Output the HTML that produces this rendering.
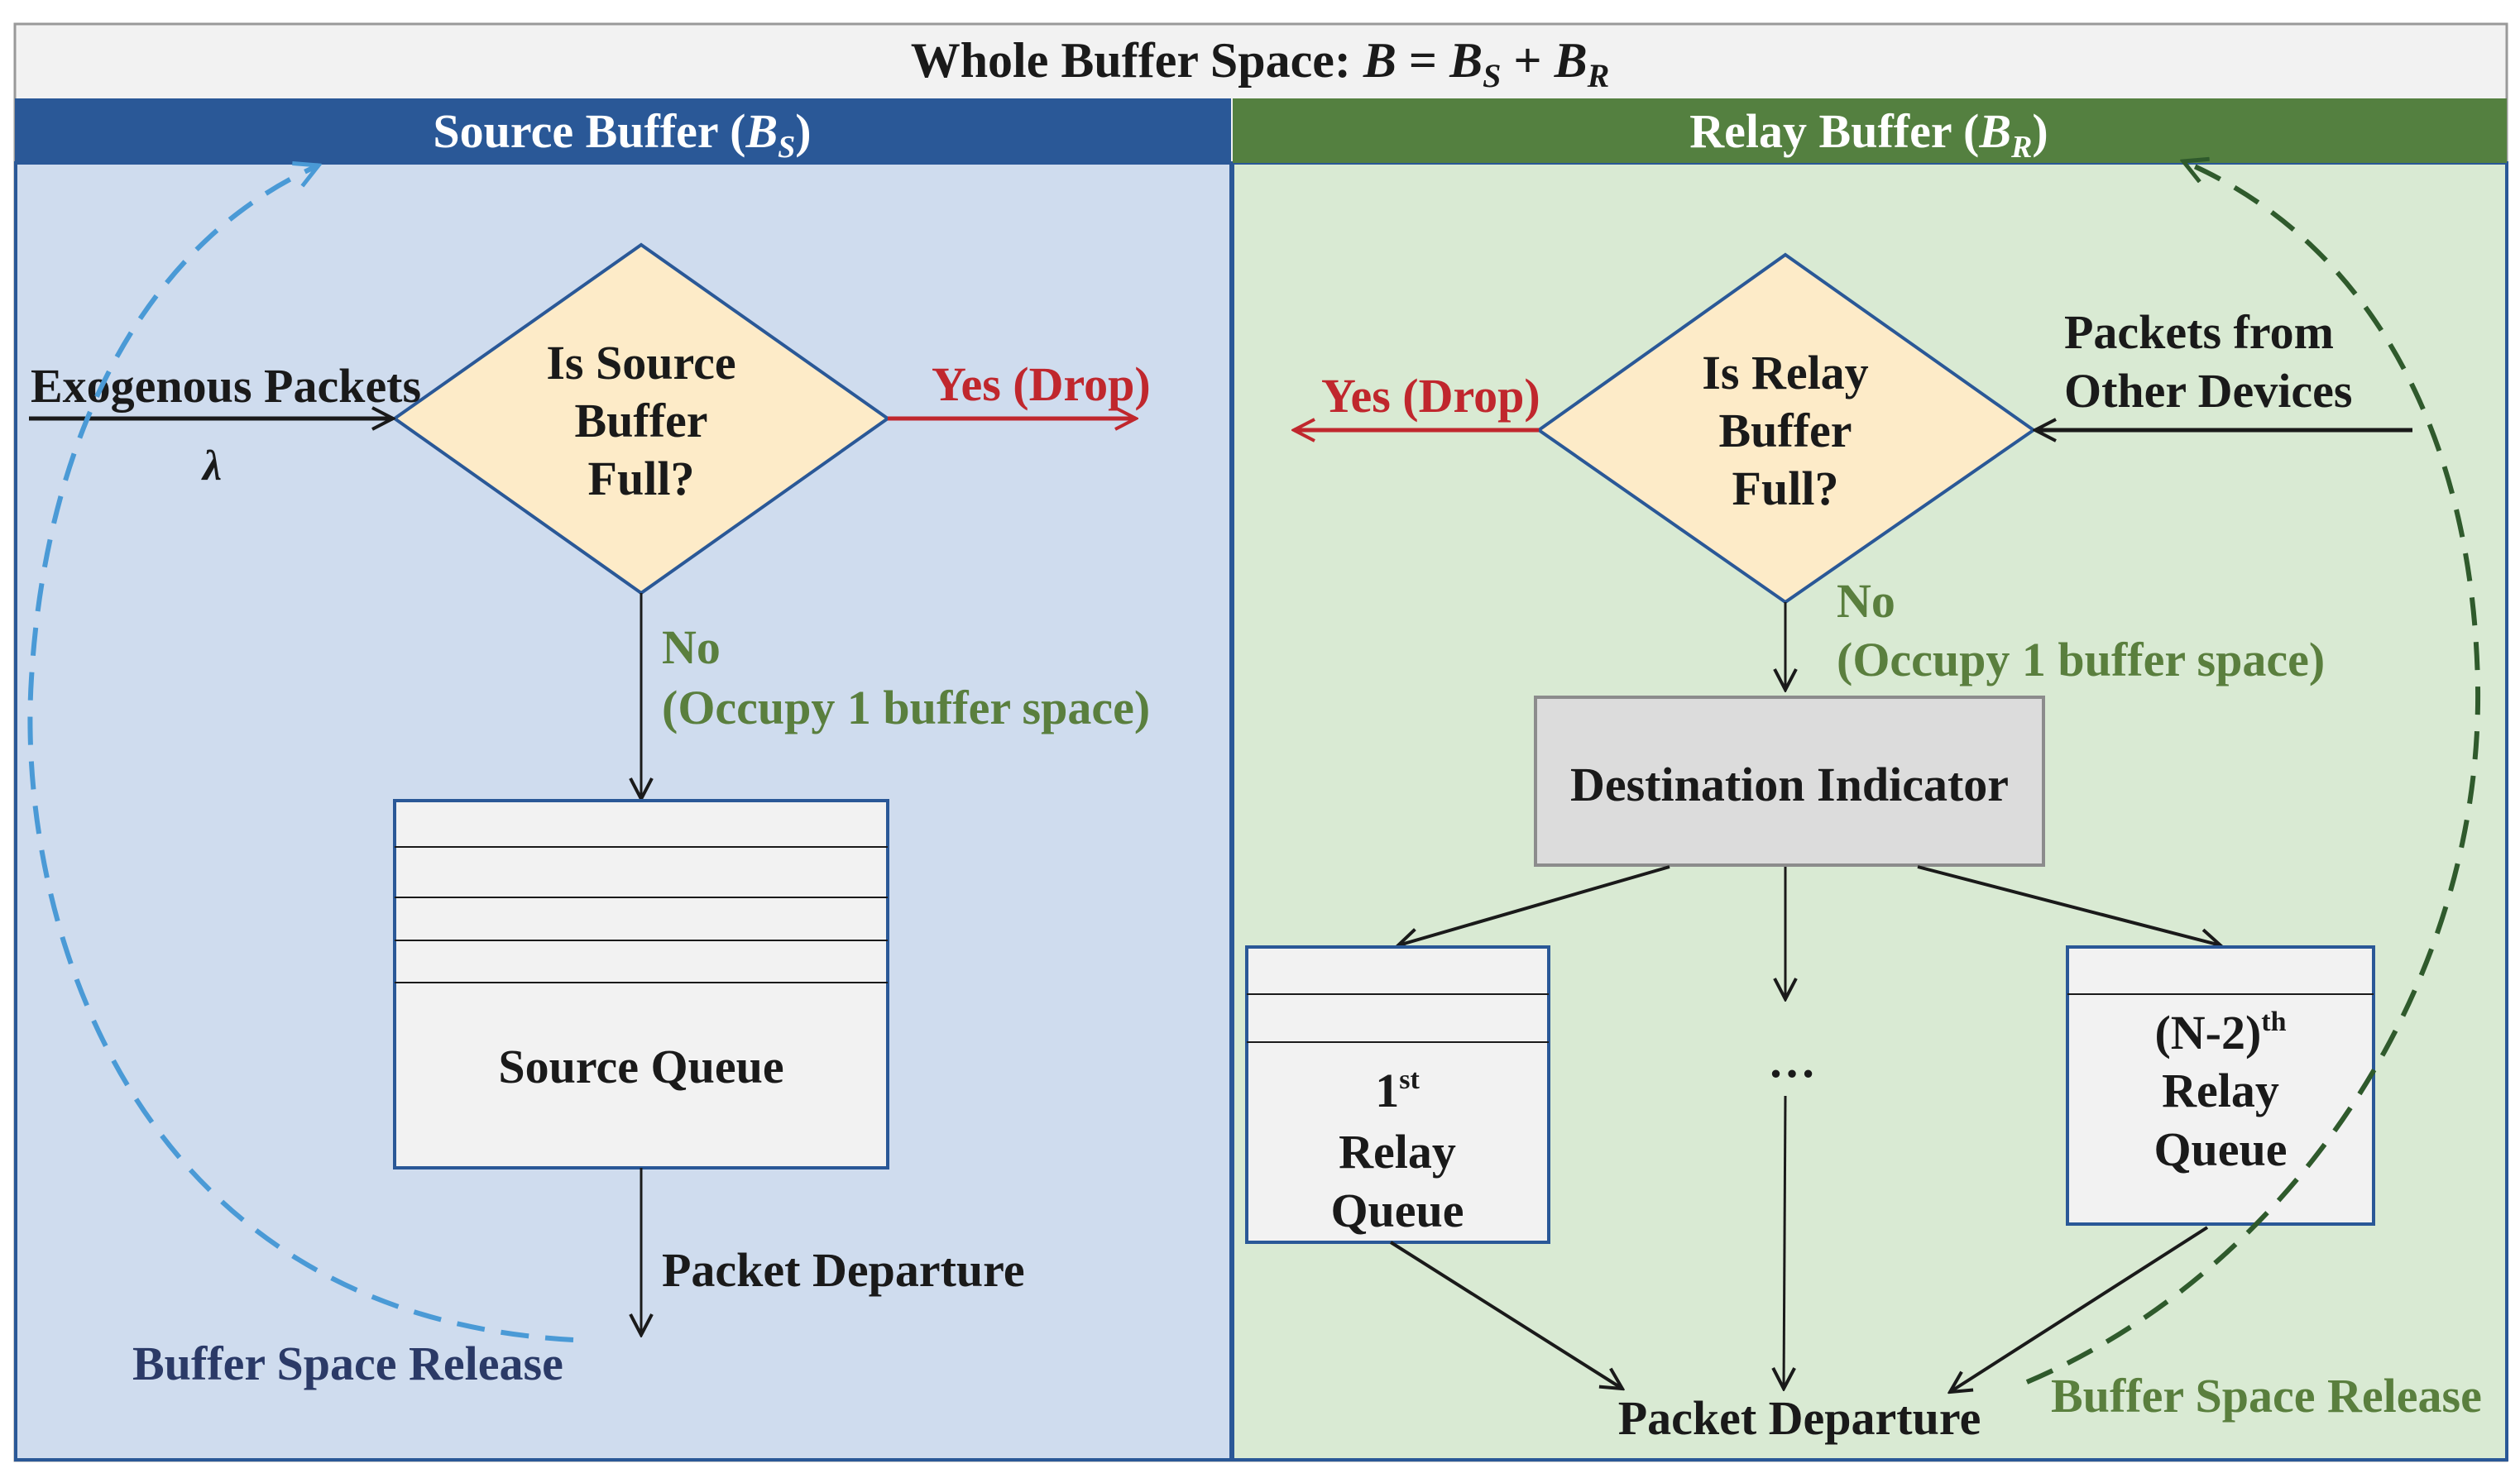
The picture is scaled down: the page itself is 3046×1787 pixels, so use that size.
<!DOCTYPE html>
<html><head><meta charset="utf-8"><style>
html,body{margin:0;padding:0;background:#fff}
svg{display:block}
text{font-family:"Liberation Serif",serif;font-weight:bold}
</style></head><body>
<svg width="3046" height="1787" viewBox="0 0 3046 1787" xmlns="http://www.w3.org/2000/svg">
<defs>
<marker id="ak2" markerWidth="30" markerHeight="30" refX="27" refY="15" orient="auto" markerUnits="userSpaceOnUse"><path d="M2,2 L27,15 L2,28" fill="none" stroke="#1a1a1a" stroke-width="4"/></marker>
<marker id="ar" markerWidth="30" markerHeight="30" refX="27" refY="15" orient="auto" markerUnits="userSpaceOnUse"><path d="M2,2 L27,15 L2,28" fill="none" stroke="#c0272d" stroke-width="4"/></marker>
<marker id="ab" markerWidth="34" markerHeight="34" refX="30" refY="17" orient="auto" markerUnits="userSpaceOnUse"><path d="M2,2 L30,17 L2,32" fill="none" stroke="#4a9ad6" stroke-width="5"/></marker>
<marker id="ag" markerWidth="34" markerHeight="34" refX="30" refY="17" orient="auto" markerUnits="userSpaceOnUse"><path d="M2,2 L30,17 L2,32" fill="none" stroke="#2f5a2c" stroke-width="5"/></marker>
</defs>
<rect x="18" y="29" width="3012" height="1737" fill="#f2f2f2" stroke="#999" stroke-width="3"/>
<text x="1523" y="93" font-size="60" text-anchor="middle" fill="#1a1a1a">Whole Buffer Space: <tspan font-style="italic">B</tspan> = <tspan font-style="italic">B</tspan><tspan font-style="italic" font-size="40" dy="12">S</tspan><tspan dy="-12"> + </tspan><tspan font-style="italic">B</tspan><tspan font-style="italic" font-size="40" dy="12">R</tspan></text>
<rect x="19" y="197" width="1469" height="1568" fill="#cfdcee" stroke="#2a5897" stroke-width="4"/>
<rect x="18" y="119" width="1470" height="78" fill="#2a5897"/>
<text x="752" y="178" font-size="58" text-anchor="middle" fill="#fff">Source Buffer (<tspan font-style="italic">B</tspan><tspan font-style="italic" font-size="38" dy="12">S</tspan><tspan dy="-12">)</tspan></text>
<rect x="1490" y="197" width="1540" height="1568" fill="#d9ead3" stroke="#2a5897" stroke-width="4"/>
<rect x="1490" y="119" width="1540" height="78" fill="#548040"/>
<text x="2259" y="178" font-size="58" text-anchor="middle" fill="#fff">Relay Buffer (<tspan font-style="italic">B</tspan><tspan font-style="italic" font-size="38" dy="12">R</tspan><tspan dy="-12">)</tspan></text>

<polygon points="477,506 775,296 1073,506 775,717" fill="#fdebc8" stroke="#2a5897" stroke-width="4"/>
<g font-size="58" text-anchor="middle" fill="#1a1a1a">
<text x="775" y="458">Is Source</text><text x="775" y="528">Buffer</text><text x="775" y="598">Full?</text>
</g>
<text x="37" y="486" font-size="58" fill="#1a1a1a">Exogenous Packets</text>
<line x1="35" y1="506" x2="475" y2="506" stroke="#1a1a1a" stroke-width="5" marker-end="url(#ak2)"/>
<text x="245" y="580" font-size="52" font-style="italic" font-weight="normal" fill="#1a1a1a">λ</text>
<text x="1126" y="484" font-size="58" fill="#c0272d">Yes (Drop)</text>
<line x1="1073" y1="506" x2="1373" y2="506" stroke="#c0272d" stroke-width="5" marker-end="url(#ar)"/>
<line x1="775" y1="717" x2="775" y2="966" stroke="#1a1a1a" stroke-width="3" marker-end="url(#ak2)"/>
<text x="800" y="802" font-size="58" fill="#5a7f3e">No</text>
<text x="800" y="875" font-size="58" fill="#5a7f3e">(Occupy 1 buffer space)</text>
<rect x="477" y="968" width="596" height="444" fill="#f2f2f2" stroke="#2a5897" stroke-width="4"/>
<g stroke="#1a1a1a" stroke-width="2"><line x1="477" y1="1024" x2="1073" y2="1024"/><line x1="477" y1="1085" x2="1073" y2="1085"/><line x1="477" y1="1137" x2="1073" y2="1137"/><line x1="477" y1="1188" x2="1073" y2="1188"/></g>
<text x="775" y="1309" font-size="58" text-anchor="middle" fill="#1a1a1a">Source Queue</text>
<line x1="775" y1="1412" x2="775" y2="1614" stroke="#1a1a1a" stroke-width="3" marker-end="url(#ak2)"/>
<text x="800" y="1555" font-size="58" fill="#1a1a1a">Packet Departure</text>
<text x="160" y="1668" font-size="58" fill="#2b3a67">Buffer Space Release</text>
<path d="M693,1620 C 150,1590 20,1100 38,820 C 56,520 180,290 385,200" fill="none" stroke="#4a9ad6" stroke-width="6" stroke-dasharray="34,20" marker-end="url(#ab)"/>

<polygon points="1860,520 2158,308 2458,520 2158,728" fill="#fdebc8" stroke="#2a5897" stroke-width="4"/>
<g font-size="58" text-anchor="middle" fill="#1a1a1a">
<text x="2158" y="470">Is Relay</text><text x="2158" y="540">Buffer</text><text x="2158" y="610">Full?</text>
</g>
<text x="1597" y="498" font-size="58" fill="#c0272d">Yes (Drop)</text>
<line x1="1860" y1="520" x2="1564" y2="520" stroke="#c0272d" stroke-width="5" marker-end="url(#ar)"/>
<text x="2495" y="421" font-size="58" fill="#1a1a1a">Packets from</text>
<text x="2495" y="492" font-size="58" fill="#1a1a1a">Other Devices</text>
<line x1="2916" y1="520" x2="2460" y2="520" stroke="#1a1a1a" stroke-width="5" marker-end="url(#ak2)"/>
<line x1="2158" y1="728" x2="2158" y2="834" stroke="#1a1a1a" stroke-width="3" marker-end="url(#ak2)"/>
<text x="2220" y="746" font-size="58" fill="#5a7f3e">No</text>
<text x="2220" y="817" font-size="58" fill="#5a7f3e">(Occupy 1 buffer space)</text>
<rect x="1856" y="843" width="614" height="203" fill="#dcdcdc" stroke="#8c8c8c" stroke-width="4"/>
<text x="2163" y="968" font-size="58" text-anchor="middle" fill="#1a1a1a">Destination Indicator</text>
<line x1="2018" y1="1048" x2="1690" y2="1143" stroke="#1a1a1a" stroke-width="4" marker-end="url(#ak2)"/>
<line x1="2158" y1="1048" x2="2158" y2="1208" stroke="#1a1a1a" stroke-width="3" marker-end="url(#ak2)"/>
<line x1="2318" y1="1048" x2="2684" y2="1143" stroke="#1a1a1a" stroke-width="4" marker-end="url(#ak2)"/>
<rect x="1507" y="1145" width="365" height="357" fill="#f2f2f2" stroke="#2a5897" stroke-width="4"/>
<line x1="1507" y1="1202" x2="1872" y2="1202" stroke="#1a1a1a" stroke-width="2"/>
<line x1="1507" y1="1260" x2="1872" y2="1260" stroke="#1a1a1a" stroke-width="2"/>
<g font-size="58" text-anchor="middle" fill="#1a1a1a">
<text x="1689" y="1338">1<tspan font-size="34" dy="-22">st</tspan></text>
<text x="1689" y="1412">Relay</text><text x="1689" y="1483">Queue</text>
</g>
<rect x="2499" y="1145" width="370" height="335" fill="#f2f2f2" stroke="#2a5897" stroke-width="4"/>
<line x1="2499" y1="1202" x2="2869" y2="1202" stroke="#1a1a1a" stroke-width="2"/>
<g font-size="58" text-anchor="middle" fill="#1a1a1a">
<text x="2684" y="1268">(N-2)<tspan font-size="34" dy="-22">th</tspan></text>
<text x="2684" y="1338">Relay</text><text x="2684" y="1409">Queue</text>
</g>
<text x="2166" y="1302" font-size="58" text-anchor="middle" fill="#1a1a1a">…</text>
<line x1="2158" y1="1325" x2="2156" y2="1679" stroke="#1a1a1a" stroke-width="3" marker-end="url(#ak2)"/>
<line x1="1681" y1="1502" x2="1961" y2="1679" stroke="#1a1a1a" stroke-width="4" marker-end="url(#ak2)"/>
<line x1="2668" y1="1484" x2="2357" y2="1683" stroke="#1a1a1a" stroke-width="4" marker-end="url(#ak2)"/>
<text x="2175" y="1734" font-size="58" text-anchor="middle" fill="#1a1a1a">Packet Departure</text>
<text x="2479" y="1707" font-size="58" fill="#5a7f3e">Buffer Space Release</text>
<path d="M2450,1671 C 2760,1540 3000,1200 2995,830 C 2990,520 2860,290 2639,195" fill="none" stroke="#2f5a2c" stroke-width="6" stroke-dasharray="34,20" marker-end="url(#ag)"/>
</svg>
</body></html>
